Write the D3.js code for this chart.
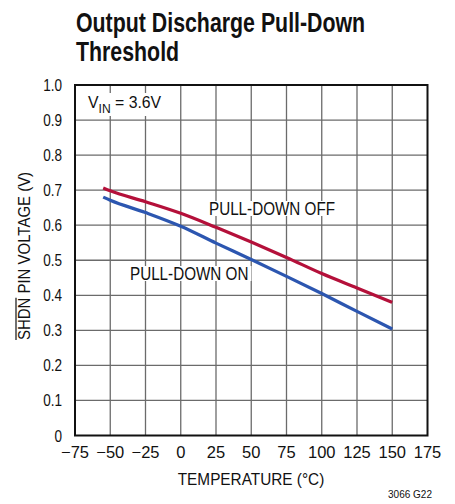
<!DOCTYPE html>
<html>
<head>
<meta charset="utf-8">
<script src="https://cdn.jsdelivr.net/npm/d3@7"></script>
<style>
  body { margin: 0; background: #fff; }
  svg text { font-family: "Liberation Sans Narrow", "Arial Narrow", "Liberation Sans", sans-serif; fill: #111; }
</style>
</head>
<body>
<div id="chart"></div>
<script>
// Data.
var temps      = [-55, -50, -25, 0, 25, 50, 75, 100, 125, 150];
var pullOff    = [0.706, 0.698, 0.667, 0.634, 0.594, 0.552, 0.508, 0.462, 0.421, 0.380];
var pullOn     = [0.680, 0.671, 0.636, 0.597, 0.549, 0.502, 0.454, 0.405, 0.354, 0.304];
var xTicks     = [-75, -50, -25, 0, 25, 50, 75, 100, 125, 150, 175];
var yTicks     = [0, 0.1, 0.2, 0.3, 0.4, 0.5, 0.6, 0.7, 0.8, 0.9, 1.0];

var W = 455, H = 504;
var pLeft = 75, pRight = 427.5, pTop = 85, pBottom = 435.5;

var svg = d3.select("#chart").append("svg")
    .attr("width", W).attr("height", H);

var x = d3.scaleLinear().domain([-75, 175]).range([pLeft, pRight]);
var y = d3.scaleLinear().domain([0, 1]).range([pBottom, pTop]);

// Squeeze text horizontally, no condensed font is installed.
function condense(sel, f) {
    sel.each(function() {
        var len = this.getComputedTextLength();
        d3.select(this).attr("textLength", len * f).attr("lengthAdjust", "spacingAndGlyphs");
    });
    return sel;
}

// White box right under a text, on top of the grid.
function whiteBox(t, padX, padTop, padBot) {
    var b = t.node().getBBox();
    svg.insert("rect", function() { return t.node(); })
        .attr("x", b.x - padX).attr("y", b.y + padTop)
        .attr("width", b.width + 2 * padX).attr("height", b.height - padTop - padBot)
        .attr("fill", "#fff");
}

// Title.
condense(svg.append("text").attr("x", 76).attr("y", 32)
    .style("font-size", "27px").style("font-weight", "bold")
    .text("Output Discharge Pull-Down"), 0.79);
condense(svg.append("text").attr("x", 76).attr("y", 61)
    .style("font-size", "27px").style("font-weight", "bold")
    .text("Threshold"), 0.79);

// Grid.
svg.append("g").selectAll("line").data(xTicks.slice(1, -1)).enter().append("line")
    .attr("x1", function(d) { return x(d); }).attr("x2", function(d) { return x(d); })
    .attr("y1", pTop).attr("y2", pBottom)
    .attr("stroke", "#6b6b6b").attr("stroke-width", 1.3);
svg.append("g").selectAll("line").data(yTicks.slice(1, -1)).enter().append("line")
    .attr("y1", function(d) { return y(d); }).attr("y2", function(d) { return y(d); })
    .attr("x1", pLeft).attr("x2", pRight)
    .attr("stroke", "#6b6b6b").attr("stroke-width", 1.3);

// Lines.
var line = d3.line()
    .curve(d3.curveMonotoneX)
    .x(function(d) { return x(d[0]); })
    .y(function(d) { return y(d[1]); });
svg.append("path").datum(d3.zip(temps, pullOn))
    .attr("d", line).attr("fill", "none")
    .attr("stroke", "#2c56b0").attr("stroke-width", 3.2);
svg.append("path").datum(d3.zip(temps, pullOff))
    .attr("d", line).attr("fill", "none")
    .attr("stroke", "#b4103a").attr("stroke-width", 3.2);

// Curve labels.
function label(tx, ty, str) {
    var t = svg.append("text").attr("x", tx).attr("y", ty)
        .style("font-size", "17.5px").text(str);
    condense(t, 0.87);
    whiteBox(t, 3, 2, 3);
    return t;
}
label(209, 215, "PULL-DOWN OFF");
label(130, 280, "PULL-DOWN ON");

// VIN label.
var vin = svg.append("text").attr("x", 88).attr("y", 108).style("font-size", "17px");
vin.append("tspan").text("V");
vin.append("tspan").attr("dy", 5).style("font-size", "13px").text("IN");
vin.append("tspan").attr("dy", -5).text(" = 3.6V");
condense(vin, 0.93);
whiteBox(vin, 4, 0, 0);

// Frame.
svg.append("rect").attr("x", pLeft).attr("y", pTop)
    .attr("width", pRight - pLeft).attr("height", pBottom - pTop)
    .attr("fill", "none").attr("stroke", "#111").attr("stroke-width", 2);

// Tick labels.
condense(svg.append("g").selectAll("text").data(yTicks).enter().append("text")
    .attr("x", 62).attr("y", function(d) { return y(d) + 6; })
    .attr("text-anchor", "end").style("font-size", "16.5px")
    .text(function(d) { return d === 0 ? "0" : d.toFixed(1); }), 0.82);
svg.append("g").selectAll("text").data(xTicks).enter().append("text")
    .attr("x", function(d) { return x(d); }).attr("y", 458)
    .attr("text-anchor", "middle").style("font-size", "16.5px")
    .text(function(d) { return d < 0 ? "\u2212" + Math.abs(d) : d; });

// Axis titles.
condense(svg.append("text").attr("x", 251).attr("y", 485)
    .attr("text-anchor", "middle").style("font-size", "16.5px")
    .text("TEMPERATURE (\u00B0C)"), 0.93);

var yt = svg.append("text")
    .attr("transform", "translate(30,256) rotate(-90)")
    .attr("text-anchor", "middle").style("font-size", "17px")
    .text("SHDN PIN VOLTAGE (V)");
var total = yt.node().getComputedTextLength();
var shdnW = yt.node().getSubStringLength(0, 4);
var f = 0.88;
yt.attr("textLength", total * f).attr("lengthAdjust", "spacingAndGlyphs");
// Overline over SHDN.
svg.append("line")
    .attr("transform", "translate(30,256) rotate(-90)")
    .attr("x1", -total * f / 2).attr("x2", -total * f / 2 + shdnW * f)
    .attr("y1", -14).attr("y2", -14)
    .attr("stroke", "#111").attr("stroke-width", 1.2);

svg.append("text").attr("x", 432).attr("y", 498)
    .attr("text-anchor", "end").style("font-size", "10px")
    .text("3066 G22");
</script>
</body>
</html>
